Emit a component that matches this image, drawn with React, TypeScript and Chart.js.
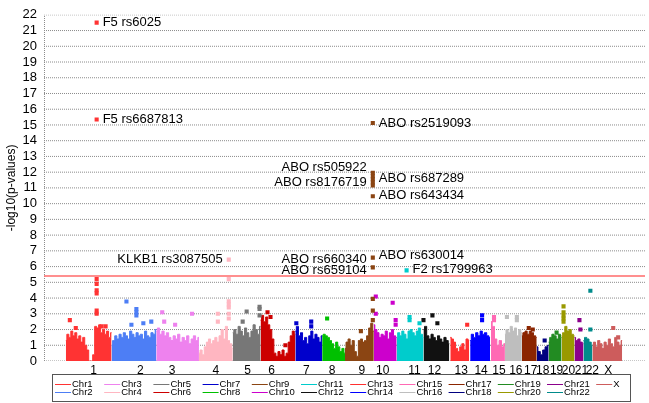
import React, { useEffect, useRef } from "react";
import { Chart, registerables } from "chart.js";

Chart.register(...registerables);

const FONT = '"Liberation Sans", Arial, Helvetica, sans-serif';

const CHROMOSOMES = [
  "Chr1", "Chr2", "Chr3", "Chr4", "Chr5", "Chr6", "Chr7", "Chr8", "Chr9", "Chr10", "Chr11", "Chr12",
  "Chr13", "Chr14", "Chr15", "Chr16", "Chr17", "Chr18", "Chr19", "Chr20", "Chr21", "Chr22", "X",
];

const CHR_COLORS = [
  "#FF3333", "#4D7EF5", "#EE82EE", "#FFB6C1", "#777777", "#CC0000", "#0000CC", "#00C000",
  "#8B4513", "#CC00CC", "#00CCCC", "#111111", "#FF3030", "#0000FF", "#FF69B4", "#BEBEBE",
  "#8B2500", "#000080", "#228B22", "#999900", "#8B008B", "#008B8B", "#CD5C5C",
];

// chromosome extent along the genome axis
const CHR_START = [22, 68, 113, 156, 190, 218, 253, 280, 303, 332, 355, 382, 409, 429, 450, 464, 481, 496, 508, 521, 534, 543, 552];
const CHR_END = [68, 113, 156, 190, 218, 253, 280, 303, 332, 355, 382, 408, 428, 449, 464, 481, 496, 508, 521, 534, 543, 552, 582];

const TICK_POS = [50, 97, 129, 173, 205, 229, 264, 290, 320, 341, 373, 393, 420, 440, 458, 475, 490, 502, 516, 528, 541, 552, 568];
const TICK_LABELS = ["1", "2", "3", "4", "5", "6", "7", "8", "9", "10", "11", "12", "13", "14", "15", "16", "17", "18", "19", "20", "21", "22", "X"];

const X_MAX = 605;
const Y_MAX = 22;
const SIG_THRESHOLD = 5.4;
const Y_GRID_VALUES = [0, 1, 2, 3, 4, 5, 6, 7, 8, 9, 10, 11, 12, 13, 14, 15, 16, 17, 18, 19, 20, 21, 22];

// dense bulk of SNPs: upper edge of the mass across each chromosome
const BULK_HEIGHTS = [
  [1.3, 1.7, 1.5, 1.9, 1.6, 1.8, 1.4, 1.6, 1.2, 1.5, 1.0, 0.7, 0, 0, 0.4, 2.2, 2.1, 2.3, 1.8, 2.0, 1.7, 1.9, 1.5, 1.8],
  [1.0, 1.3, 1.6, 1.4, 1.7, 1.5, 1.8, 1.6, 1.4, 1.9, 1.7, 1.5, 1.8, 1.6, 1.7, 1.4, 1.9, 1.6, 1.5, 1.8, 1.7, 2.0],
  [1.9, 2.1, 1.7, 1.9, 1.6, 1.8, 1.5, 1.3, 1.6, 1.4, 1.7, 1.2, 1.5, 1.3, 1.6, 1.1, 1.4, 1.6, 1.3, 1.5],
  [0.5, 0.7, 0.4, 0.9, 1.2, 1.4, 1.1, 1.3, 1.5, 1.2, 1.6, 2.0, 1.4, 2.2, 1.3, 1.1, 0.8],
  [1.8, 2.0, 1.7, 2.2, 1.9, 1.6, 2.1, 1.8, 1.5, 1.9, 2.3, 2.0, 1.7, 2.2],
  [2.6, 2.9, 2.5, 2.8, 2.3, 2.0, 1.4, 0.5, 0.3, 0.6, 0.4, 0.7, 0.3, 0.5, 1.2, 1.6, 1.9, 1.7],
  [1.9, 2.2, 1.6, 1.8, 1.3, 1.5, 1.1, 1.6, 1.9, 1.4, 1.7, 1.5, 1.2, 1.6],
  [1.6, 1.7, 1.6, 1.5, 1.3, 1.1, 0.8, 1.2, 0.9, 0.6, 0.8, 0.5],
  [0.8, 1.2, 1.4, 1.0, 1.3, 0.6, 0.3, 1.3, 1.4, 1.2, 1.3, 1.6, 2.1, 2.4, 1.9],
  [2.3, 2.0, 1.8, 1.5, 1.7, 1.6, 1.9, 1.4, 1.8, 2.0, 1.6, 1.5],
  [1.5, 1.8, 1.6, 1.9, 1.7, 1.4, 1.9, 2.0, 1.8, 1.6, 1.9, 2.1, 1.7, 1.5],
  [2.0, 2.2, 1.6, 1.4, 1.7, 1.5, 1.3, 1.6, 1.4, 1.2, 1.5, 1.3, 1.1],
  [1.5, 1.4, 1.2, 0.8, 0.6, 0.9, 1.1, 0.7, 1.4, 1.3],
  [1.3, 1.7, 1.5, 1.8, 1.6, 1.9, 1.7, 1.8, 1.6, 1.5],
  [2.5, 2.2, 1.4, 1.0, 1.3, 0.9, 1.1],
  [1.7, 2.0, 1.8, 2.2, 1.9, 2.1, 1.6, 2.0, 1.8],
  [1.6, 1.8, 1.9, 1.7, 1.9, 1.8, 1.6, 1.5],
  [0.9, 0.6, 0.4, 0.7, 0.9, 1.0],
  [1.2, 1.5, 1.7, 1.6, 1.4, 1.7, 1.5],
  [1.6, 1.8, 2.2, 1.9, 2.0, 1.7, 1.6],
  [1.5, 1.3, 1.4, 1.2, 1.1],
  [1.3, 1.5, 1.4, 1.2, 1.0],
  [1.0, 1.2, 0.9, 1.3, 1.1, 0.8, 1.2, 1.0, 1.4, 1.1, 0.9, 1.5, 1.2, 1.0, 1.3],
];

// individual SNPs standing out above the bulk: [position, -log10 p]
const TOP_SNPS = [
  [[26, 2.6], [32, 2.1], [53, 5.2], [53, 4.9], [53, 4.5], [53, 4.3], [53, 3.2], [53, 3.0], [58, 2.2], [62, 2.2], [53, 21.5], [53, 15.35]],
  [[83, 3.78], [93, 3.3], [93, 3.1], [93, 2.9], [88, 2.3], [100, 2.4], [108, 2.5]],
  [[119, 3.1], [121, 2.5], [149, 3.0], [132, 2.3]],
  [[186, 3.8], [186, 3.6], [186, 3.4], [186, 3.0], [186, 2.7], [175, 3.0], [175, 2.5], [186, 6.44], [186, 5.2]],
  [[204, 3.15], [217, 3.45], [217, 3.3], [217, 2.9], [200, 2.5]],
  [[225, 3.1], [228, 2.8], [243, 1.0]],
  [[254, 2.4], [269, 2.5], [269, 2.2]],
  [[285, 2.7]],
  [[319, 1.9], [331, 3.95], [331, 3.2], [331, 2.6], [331, 15.12], [331, 11.96], [331, 11.75], [331, 11.55], [331, 11.35], [331, 11.15], [331, 10.47], [331, 6.57], [331, 5.95]],
  [[334, 4.1], [351, 3.7], [334, 3.0], [354, 2.6], [354, 2.3]],
  [[368, 2.8], [368, 2.6], [378, 2.4], [365, 5.76]],
  [[382, 2.6], [391, 2.9], [396, 2.4]],
  [[426, 2.3]],
  [[441, 2.9], [441, 2.6]],
  [[453, 2.8], [453, 2.6]],
  [[466, 2.8], [476, 2.8], [476, 2.6]],
  [[488, 2.1], [492, 2.0]],
  [[504, 1.3]],
  [[516, 1.8]],
  [[523, 3.47], [523, 3.1], [523, 2.9], [523, 2.7], [523, 2.5]],
  [[539, 2.6], [540, 2.0]],
  [[550, 4.46], [550, 2.0]],
  [[573, 2.1], [578, 1.5]],
];

// annotation texts
const LABEL_TEXT = [
  "F5 rs6025", "F5 rs6687813", "ABO rs2519093", "ABO rs505922", "ABO rs8176719", "ABO rs687289",
  "ABO rs643434", "ABO rs660340", "ABO rs630014", "ABO rs659104", "F2 rs1799963", "KLKB1 rs3087505",
];
const LABEL_X = [53, 53, 331, 331, 331, 331, 331, 331, 331, 331, 365, 186];
const LABEL_Y = [21.5, 15.37, 15.12, 12.27, 11.34, 11.59, 10.53, 6.44, 6.69, 5.76, 5.82, 6.44];
const LABEL_SIDE = ["r", "r", "r", "l", "l", "r", "r", "l", "r", "l", "r", "l"];

const labelPlugin = {
  id: "snpLabels",
  afterDatasetsDraw(chart: any) {
    const { ctx, scales } = chart;
    const xs = scales.x;
    const ys = scales.y;
    ctx.save();
    ctx.font = `13px ${FONT}`;
    ctx.fillStyle = "#000";
    ctx.textBaseline = "middle";
    LABEL_TEXT.forEach((t, i) => {
      const px = xs.getPixelForValue(LABEL_X[i]);
      const py = ys.getPixelForValue(LABEL_Y[i]);
      if (LABEL_SIDE[i] === "r") {
        ctx.textAlign = "left";
        ctx.fillText(t, px + 6, py);
      } else {
        ctx.textAlign = "right";
        ctx.fillText(t, px - 6, py);
      }
    });
    ctx.restore();
  },
};

const legendPlugin = {
  id: "chrLegend",
  afterDraw(chart: any) {
    const { ctx } = chart;
    ctx.save();
    ctx.strokeStyle = "#555";
    ctx.lineWidth = 1;
    ctx.strokeRect(52.5, 374.5, 578, 27);
    ctx.font = `9.5px ${FONT}`;
    ctx.textBaseline = "middle";
    ctx.textAlign = "left";
    CHROMOSOMES.forEach((name, i) => {
      const col = Math.floor(i / 2);
      const row = i % 2;
      const x0 = 55 + col * 49.2;
      const y0 = 384 + row * 8;
      ctx.strokeStyle = CHR_COLORS[i];
      ctx.beginPath();
      ctx.moveTo(x0, y0 + 0.5);
      ctx.lineTo(x0 + 16, y0 + 0.5);
      ctx.stroke();
      ctx.fillStyle = "#000";
      ctx.fillText(name, x0 + 17, y0 + 0.5);
    });
    ctx.restore();
  },
};

export default function App() {
  const canvasRef = useRef<HTMLCanvasElement | null>(null);

  useEffect(() => {
    if (!canvasRef.current) return;

    const pointSets = TOP_SNPS.map((pts, i) => ({
      type: "scatter" as const,
      label: CHROMOSOMES[i] + " top",
      data: pts.map(([x, y]) => ({ x, y })),
      pointStyle: "rect",
      pointRadius: 2.9,
      pointBorderWidth: 0,
      backgroundColor: CHR_COLORS[i],
      borderColor: CHR_COLORS[i],
      order: 0,
    }));

    const bulkSets = BULK_HEIGHTS.map((hs, i) => {
      const s = CHR_START[i];
      const e = CHR_END[i];
      const step = (e - s) / (hs.length - 1);
      return {
        type: "line" as const,
        label: CHROMOSOMES[i],
        data: hs.map((h, j) => ({ x: s + j * step, y: h })),
        borderColor: CHR_COLORS[i],
        backgroundColor: CHR_COLORS[i],
        borderWidth: 1,
        pointRadius: 0,
        stepped: "middle" as const,
        fill: "origin",
        order: 2,
      };
    });

    // dotted horizontal grid lines, drawn as line datasets behind everything
    const gridSets = Y_GRID_VALUES.map((v) => ({
      type: "line" as const,
      label: "grid " + v,
      data: [
        { x: 0, y: v },
        { x: X_MAX, y: v },
      ],
      borderColor: "#8c8c8c",
      borderWidth: 1,
      borderDash: [1, 1],
      pointRadius: 0,
      fill: false,
      order: 5,
    }));

    const frameSet = {
      type: "line" as const,
      label: "frame",
      data: [
        { x: 0, y: 0 },
        { x: 0, y: Y_MAX },
      ],
      borderColor: "#8c8c8c",
      borderWidth: 2,
      borderDash: [1, 1],
      pointRadius: 0,
      fill: false,
      order: 5,
    };

    const sigSet = {
      type: "line" as const,
      label: "threshold",
      data: [
        { x: 0, y: SIG_THRESHOLD },
        { x: X_MAX, y: SIG_THRESHOLD },
      ],
      borderColor: "#FF6A6A",
      borderWidth: 1.5,
      pointRadius: 0,
      fill: false,
      order: 1,
    };

    const chart = new Chart(canvasRef.current, {
      type: "scatter",
      data: { datasets: [...pointSets, sigSet, ...bulkSets, ...gridSets, frameSet] as any },
      options: {
        animation: false,
        responsive: false,
        maintainAspectRatio: false,
        layout: { padding: { top: 6, right: 0, bottom: 0, left: 0 } },
        plugins: {
          legend: { display: false },
          tooltip: { enabled: false },
        },
        scales: {
          x: {
            type: "linear",
            min: 0,
            max: X_MAX,
            grid: { display: false, drawTicks: false },
            border: { display: false },
            afterBuildTicks: (scale: any) => {
              scale.ticks = TICK_POS.map((v) => ({ value: v }));
            },
            afterFit: (scale: any) => {
              scale.height = 42;
            },
            ticks: {
              autoSkip: false,
              maxRotation: 0,
              padding: 2,
              color: "#000",
              font: { family: FONT, size: 12 },
              callback: (_v: any, idx: number) => TICK_LABELS[idx],
            },
          },
          y: {
            type: "linear",
            min: 0,
            max: Y_MAX,
            afterFit: (scale: any) => {
              scale.width = 44;
            },
            grid: { display: false, drawTicks: false },
            border: { display: false },
            ticks: {
              stepSize: 1,
              autoSkip: false,
              padding: 7,
              color: "#000",
              font: { family: FONT, size: 13 },
            },
            title: {
              display: true,
              text: "-log10(p-values)",
              color: "#000",
              font: { family: FONT, size: 12 },
              padding: { top: 4, bottom: 0 },
            },
          },
        },
      },
      plugins: [labelPlugin, legendPlugin],
    });

    return () => chart.destroy();
  }, []);

  return (
    <div style={{ position: "absolute", left: 0, top: 0, width: 649, height: 403 }}>
      <canvas ref={canvasRef} width={649} height={403} style={{ width: 649, height: 403, display: "block", background: "#fff" }} />
    </div>
  );
}
